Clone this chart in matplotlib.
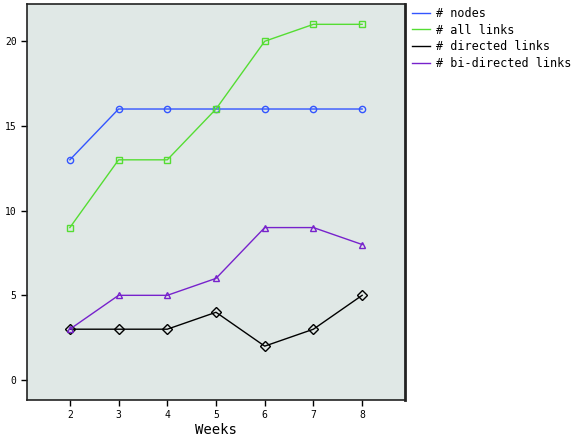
import matplotlib.pyplot as plt

# Dados
semanas = [2, 3, 4, 5, 6, 7, 8]
nos = [13, 16, 16, 16, 16, 16, 16]
todos_links = [9, 13, 13, 16, 20, 21, 21]
links_dirigidos = [3, 3, 3, 4, 2, 3, 5]
links_bidirecionais = [3, 5, 5, 6, 9, 9, 8]

plt.rcParams['font.family'] = ['DejaVu Sans Mono', 'DejaVu Sans']

fig = plt.figure(figsize=(5.74, 4.41), dpi=100)
ax = fig.add_axes([27 / 574, 1 - 400 / 441, 378 / 574, 396 / 441])
ax.set_facecolor('#e0e8e6')

ax.plot(semanas, nos, color='#3355ff', lw=1, marker='o', ms=4.5, mfc='none', mew=1, label='# nodes')
ax.plot(semanas, todos_links, color='#55dd33', lw=1, marker='s', ms=4.5, mfc='none', mew=1, label='# all links')
ax.plot(semanas, links_dirigidos, color='black', lw=1, marker='D', ms=5, mfc='none', mew=1, label='# directed links')
ax.plot(semanas, links_bidirecionais, color='#7722cc', lw=1, marker='^', ms=4, mfc='none', mew=1, label='# bi-directed links')

ax.set_xlim(1.12, 8.88)
ax.set_ylim(-1.18, 22.2)
ax.set_xticks(semanas)
ax.set_yticks([0, 5, 10, 15, 20])
ax.tick_params(labelsize=7, direction='out', length=4, width=1)
ax.set_xlabel('Weeks', fontsize=10, labelpad=2)

for s in ax.spines.values():
    s.set_linewidth(1.2)
    s.set_color('#222222')
ax.spines['right'].set_linewidth(2)

leg = fig.legend(loc='upper left', bbox_to_anchor=(405 / 574, 1.0), frameon=False,
                 fontsize=8.5, handlelength=1.5, handletextpad=0.5, labelspacing=0.3,
                 borderaxespad=0.2)
for h in leg.legend_handles:
    h.set_marker('')

fig.savefig('out.png', dpi=100)
